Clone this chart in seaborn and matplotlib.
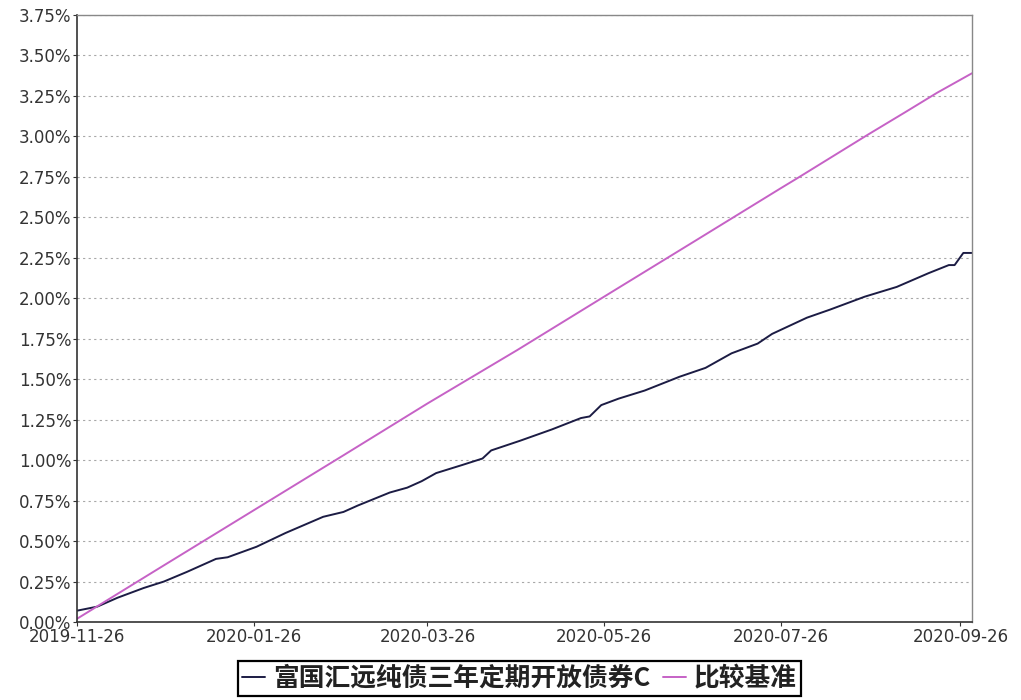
import pandas as pd
import seaborn as sns
import matplotlib.pyplot as plt
import matplotlib.ticker as mticker

# fund cumulative return (%)
fund_dates = ["2019-11-26", "2019-12-03", "2019-12-10", "2019-12-19", "2019-12-26",
              "2020-01-03", "2020-01-13", "2020-01-17", "2020-01-27", "2020-02-06",
              "2020-02-19", "2020-02-26", "2020-03-02", "2020-03-13", "2020-03-19",
              "2020-03-24", "2020-03-29", "2020-04-07", "2020-04-14", "2020-04-17",
              "2020-04-27", "2020-05-08", "2020-05-18", "2020-05-21", "2020-05-25",
              "2020-05-31", "2020-06-09", "2020-06-21", "2020-06-30", "2020-07-09",
              "2020-07-18", "2020-07-23", "2020-08-04", "2020-08-12", "2020-08-24",
              "2020-09-04", "2020-09-15", "2020-09-22", "2020-09-24", "2020-09-27",
              "2020-09-30"]
fund_values = [0.07, 0.095, 0.15, 0.21, 0.25,
               0.31, 0.39, 0.40, 0.465, 0.55,
               0.65, 0.68, 0.72, 0.80, 0.83,
               0.87, 0.92, 0.97, 1.01, 1.06,
               1.12, 1.19, 1.26, 1.27, 1.34,
               1.38, 1.43, 1.515, 1.57, 1.66,
               1.72, 1.78, 1.88, 1.93, 2.01,
               2.07, 2.155, 2.205, 2.205, 2.28,
               2.28]

# benchmark cumulative return (%)
bench_dates = ["2019-11-26", "2019-12-26", "2020-01-26", "2020-02-26", "2020-03-26",
               "2020-04-26", "2020-05-26", "2020-06-26", "2020-07-26", "2020-08-01",
               "2020-08-25", "2020-09-07", "2020-09-18", "2020-09-30"]
bench_values = [0.02, 0.35, 0.69, 1.03, 1.35, 1.68, 2.01, 2.35, 2.68, 2.745,
                3.01, 3.15, 3.27, 3.39]

x_ticks = ["2019-11-26", "2020-01-26", "2020-03-26", "2020-05-26", "2020-07-26", "2020-09-26"]
y_ticks = [0.25 * i for i in range(16)]

fund_name = "富国汇远纯债三年定期开放债券C"
bench_name = "比较基准"

fund = pd.DataFrame({"date": pd.to_datetime(fund_dates), "value": fund_values})
bench = pd.DataFrame({"date": pd.to_datetime(bench_dates), "value": bench_values})

sns.set_style("white")
plt.rcParams["font.family"] = ["DejaVu Sans", "Noto Sans CJK SC"]

fig = plt.figure(figsize=(10.21, 7.0), dpi=100)
ax = fig.add_axes([0.0754, 0.1114, 0.8766, 0.8672])

sns.lineplot(data=fund, x="date", y="value", ax=ax, color="#1c1c44", lw=1.4, label=fund_name)
sns.lineplot(data=bench, x="date", y="value", ax=ax, color="#c662c6", lw=1.4, label=bench_name)

ax.set_xlim(pd.Timestamp("2019-11-26"), pd.Timestamp("2020-09-30"))
ax.set_ylim(0, 3.75)
ax.set_xticks(pd.to_datetime(x_ticks))
ax.set_xticklabels(x_ticks)
ax.set_yticks(y_ticks)
ax.yaxis.set_major_formatter(mticker.FuncFormatter(lambda v, p: f"{v:.2f}%"))
ax.set_xlabel("")
ax.set_ylabel("")

ax.tick_params(axis="both", which="major", labelsize=12, colors="#333333",
               length=3, width=0.8, direction="out", pad=1, left=True, bottom=True)
ax.tick_params(axis="x", pad=1.5)

ax.yaxis.grid(True, color="#a8a8a8", linestyle=(0, (2, 3)), linewidth=0.8)
ax.xaxis.grid(False)

for side in ["left", "bottom"]:
    ax.spines[side].set_color("#333333")
    ax.spines[side].set_linewidth(1.2)
for side in ["right", "top"]:
    ax.spines[side].set_color("#888888")
    ax.spines[side].set_linewidth(1.0)

leg = ax.legend(loc="center", bbox_to_anchor=(519.5 / 1021, 21.5 / 700),
                bbox_transform=fig.transFigure, ncol=2, frameon=True, fancybox=False,
                framealpha=1, edgecolor="black", handlelength=0.9, handletextpad=0.3,
                columnspacing=0.5, borderpad=0.15, borderaxespad=0,
                prop={"family": ["Noto Sans CJK SC", "DejaVu Sans"], "size": 18.5, "weight": "bold"})
leg.get_frame().set_linewidth(1.6)
for t in leg.get_texts():
    t.set_color("#222222")

fig.savefig("out.png", dpi=100)
